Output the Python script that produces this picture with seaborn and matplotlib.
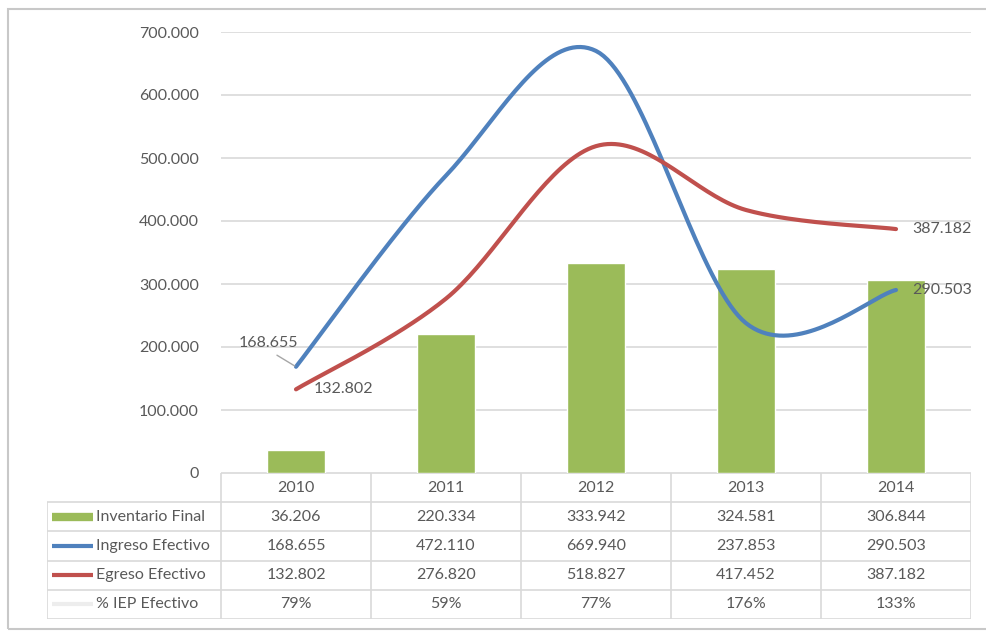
import numpy as np
import pandas as pd
import matplotlib
matplotlib.use('Agg')
import matplotlib.pyplot as plt
from matplotlib.lines import Line2D
from matplotlib.patches import Rectangle
import seaborn as sns

# Datos del grafico
years = ['2010', '2011', '2012', '2013', '2014']
inventario_final = [36206, 220334, 333942, 324581, 306844]
ingreso_efectivo = [168655, 472110, 669940, 237853, 290503]
egreso_efectivo = [132802, 276820, 518827, 417452, 387182]
iep_efectivo = ['79%', '59%', '77%', '176%', '133%']
row_labels = ['Inventario Final', 'Ingreso Efectivo', 'Egreso Efectivo', '% IEP Efectivo']
y_ticks = [0, 100000, 200000, 300000, 400000, 500000, 600000, 700000]

VERDE = '#9BBB59'
AZUL = '#4F81BD'
ROJO = '#C0504D'
GRIS_TXT = '#595959'
GRIS_LINEA = '#D9D9D9'


def fmt_miles(v):
    # 1234567 -> 1.234.567 (formato espanol)
    return f'{v:,.0f}'.replace(',', '.')


def suavizar(vals, n=40):
    # curva suavizada tipo Excel (Bezier con tangentes Catmull-Rom)
    p = np.array(vals, dtype=float)
    x = np.arange(len(p), dtype=float)
    xs, ys = [], []
    for i in range(len(p) - 1):
        pm = (x[i - 1], p[i - 1]) if i > 0 else (x[i], p[i])
        p2 = (x[i + 2], p[i + 2]) if i + 2 < len(p) else (x[i + 1], p[i + 1])
        c1 = (x[i] + (x[i + 1] - pm[0]) / 6, p[i] + (p[i + 1] - pm[1]) / 6)
        c2 = (x[i + 1] - (p2[0] - x[i]) / 6, p[i + 1] - (p2[1] - p[i]) / 6)
        t = np.linspace(0, 1, n)
        b0, b1, b2, b3 = (1 - t) ** 3, 3 * t * (1 - t) ** 2, 3 * t ** 2 * (1 - t), t ** 3
        xs.append(b0 * x[i] + b1 * c1[0] + b2 * c2[0] + b3 * x[i + 1])
        ys.append(b0 * p[i] + b1 * c1[1] + b2 * c2[1] + b3 * p[i + 1])
    return np.concatenate(xs), np.concatenate(ys)


sns.set_theme(style='white')
plt.rcParams['font.family'] = ['Lato', 'DejaVu Sans']

W, H = 987, 631
fig = plt.figure(figsize=(W / 100, H / 100), dpi=100)

# marco exterior
fig.patches.append(Rectangle((8 / W, 1 - 629 / H), 1.2, (629 - 9) / H, transform=fig.transFigure,
                             fill=False, edgecolor='#C8C8C8', linewidth=1.5))

ax = fig.add_axes([221 / W, 1 - 473 / H, 750 / W, 441 / H])
df = pd.DataFrame({'anio': years, 'inv': inventario_final})
sns.barplot(data=df, x='anio', y='inv', color=VERDE, width=0.387, saturation=1, ax=ax, zorder=2)

xi, yi = suavizar(ingreso_efectivo)
xe, ye = suavizar(egreso_efectivo)
sns.lineplot(x=xi, y=yi, sort=False, estimator=None, color=AZUL, linewidth=3, ax=ax, zorder=3)
sns.lineplot(x=xe, y=ye, sort=False, estimator=None, color=ROJO, linewidth=3, ax=ax, zorder=3)

ax.set_xlim(-0.5, 4.5)
ax.set_ylim(0, 700000)
ax.set_yticks(y_ticks)
ax.set_yticklabels([fmt_miles(v) for v in y_ticks], fontsize=11.5, color=GRIS_TXT)
ax.tick_params(axis='y', length=0, pad=16)
ax.set_xticks([])
ax.set_xlabel('')
ax.set_ylabel('')
ax.grid(axis='y', color=GRIS_LINEA, linewidth=1.2, zorder=0)
ax.set_axisbelow(True)
for s in ax.spines.values():
    s.set_visible(False)

# etiquetas de datos
ax.annotate(fmt_miles(ingreso_efectivo[0]), xy=(0, ingreso_efectivo[0]), xytext=(-28, 24),
            textcoords='offset pixels', ha='center', va='center', fontsize=11.5, color=GRIS_TXT,
            arrowprops=dict(arrowstyle='-', color='#A6A6A6', lw=1, shrinkA=3, shrinkB=1,
                            relpos=(0.5, 0)))
ax.annotate(fmt_miles(egreso_efectivo[0]), xy=(0, egreso_efectivo[0]), xytext=(18, 0),
            textcoords='offset pixels', ha='left', va='center', fontsize=11.5, color=GRIS_TXT)
ax.annotate(fmt_miles(egreso_efectivo[-1]), xy=(4, egreso_efectivo[-1]), xytext=(16, 0),
            textcoords='offset pixels', ha='left', va='center', fontsize=11.5, color=GRIS_TXT)
ax.annotate(fmt_miles(ingreso_efectivo[-1]), xy=(4, ingreso_efectivo[-1]), xytext=(16, 0),
            textcoords='offset pixels', ha='left', va='center', fontsize=11.5, color=GRIS_TXT)

# tabla de datos bajo el grafico
tx0 = -0.5 - (221 - 47) / 150
tab = fig.add_axes([47 / W, 1 - 619 / H, (971 - 47) / W, 146 / H])
tab.set_xlim(tx0, 4.5)
tab.set_ylim(5, 0)
tab.axis('off')

tab.hlines(0, -0.5, 4.5, color=GRIS_LINEA, lw=1.2)
tab.hlines(range(1, 6), tx0, 4.5, color=GRIS_LINEA, lw=1.2)
tab.vlines([c - 0.5 for c in range(6)], 0, 5, color=GRIS_LINEA, lw=1.2)
tab.vlines(tx0, 1, 5, color=GRIS_LINEA, lw=1.2)

for c, y in enumerate(years):
    tab.text(c, 0.5, y, ha='center', va='center', fontsize=11.5, color=GRIS_TXT)

filas = [[fmt_miles(v) for v in inventario_final],
         [fmt_miles(v) for v in ingreso_efectivo],
         [fmt_miles(v) for v in egreso_efectivo],
         iep_efectivo]
muestras = [(VERDE, 6), (AZUL, 3), (ROJO, 3), ('#EDEDED', 3)]
for r, (lab, vals) in enumerate(zip(row_labels, filas)):
    yc = r + 1.5
    col, lw = muestras[r]
    tab.add_line(Line2D([tx0 + 5 / 150, tx0 + 46 / 150], [yc, yc], color=col, lw=lw, solid_capstyle='butt'))
    tab.text(tx0 + 49 / 150, yc, lab, ha='left', va='center', fontsize=11.5, color=GRIS_TXT)
    for c, v in enumerate(vals):
        tab.text(c, yc, v, ha='center', va='center', fontsize=11.5, color=GRIS_TXT)

fig.savefig('out.png', dpi=100)
